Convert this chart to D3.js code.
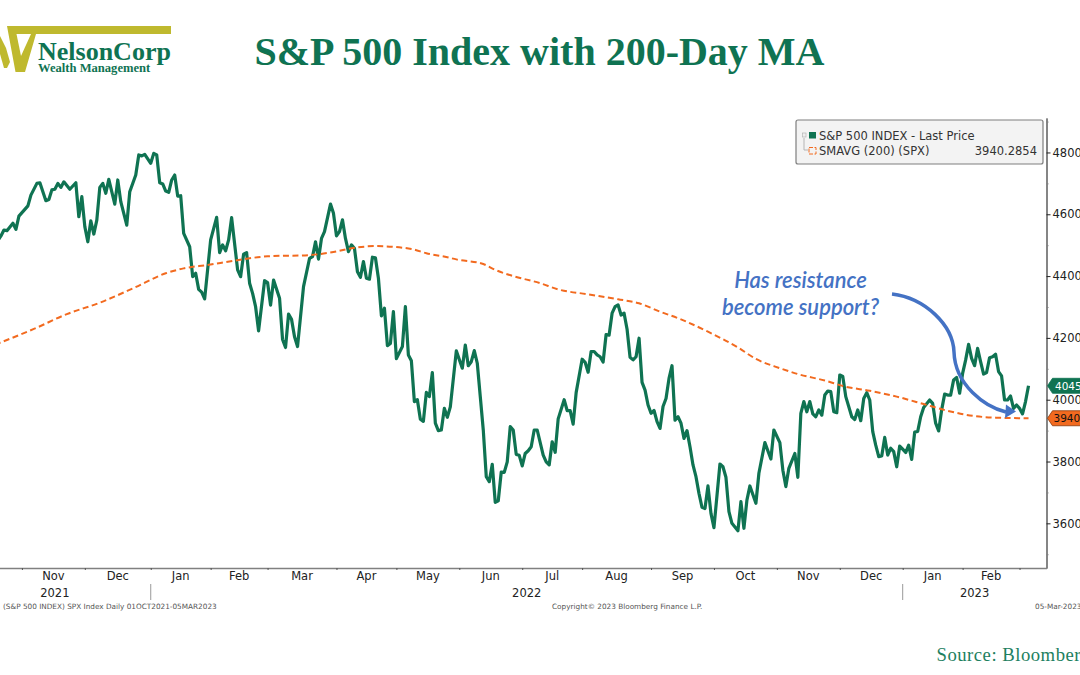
<!DOCTYPE html>
<html>
<head>
<meta charset="utf-8">
<title>S&amp;P 500 Index with 200-Day MA</title>
<script src="https://cdnjs.cloudflare.com/ajax/libs/d3/7.8.5/d3.min.js"></script>
<style>
    html, body { margin: 0; padding: 0; background: #fff; overflow: hidden; }
    svg { display: block; }
</style>
</head>
<body>
<div id="chart"></div>
<script>
'use strict'

////////////////////////////////////
//////////////// data //////////////
////////////////////////////////////

// x values are trading days counted from 01 Oct 2021
const priceDays = [
    13, 14, 15, 16, 18, 19, 20, 23, 24, 26, 27, 29, 30, 31, 32, 33, 34, 35, 37, 39, 40, 41, 42, 43, 44,
    45, 46, 47, 48, 49, 50, 52, 53, 54, 56, 57, 59, 60, 61, 62, 64, 65, 66, 67, 68, 69, 70, 71, 72, 73,
    74, 75, 77, 78, 79, 80, 81, 82, 84, 86, 87, 88, 89, 90, 91, 93, 94, 95, 96, 97, 98, 99, 100, 102, 103,
    104, 105, 107, 108, 109, 110, 111, 112, 113, 115, 117, 118, 119, 120, 121, 122, 124, 125, 126, 127, 128,
    129, 130, 131, 132, 133, 134, 135, 136, 137, 138, 139, 140, 141, 142, 143, 144, 145, 146, 148, 149, 150,
    151, 152, 153, 154, 155, 156, 157, 158, 159, 160, 161, 162, 163, 164, 166, 168, 169, 170, 171, 172, 173,
    174, 175, 176, 177, 178, 179, 180, 181, 182, 183, 184, 185, 186, 187, 188, 189, 190, 191, 192, 193, 195,
    196, 197, 198, 199, 200, 202, 203, 204, 205, 206, 208, 209, 210, 211, 212, 213, 214, 215, 216, 217, 218,
    219, 220, 221, 222, 223, 224, 225, 226, 227, 228, 229, 230, 231, 232, 233, 234, 235, 236, 237, 238, 239,
    240, 241, 242, 243, 244, 245, 246, 247, 248, 249, 250, 251, 252, 254, 255, 256, 257, 258, 260, 261, 262,
    263, 264, 266, 267, 269, 271, 272, 274, 275, 276, 277, 279, 280, 281, 282, 283, 284, 285, 286, 287, 288,
    289, 290, 291, 292, 293, 294, 295, 296, 298, 299, 300, 301, 302, 303, 304, 305, 306, 307, 308, 309, 310,
    311, 312, 313, 314, 315, 316, 317, 318, 319, 320, 321, 322, 324, 325, 326, 327, 328, 329, 330, 331, 332,
    333, 334, 335, 336, 337, 338, 339, 340, 341, 342, 343, 344, 345, 346, 347, 348, 349, 350, 351, 352, 353,
    354, 355, 356, 357
]
const priceValues = [
    4515, 4530, 4549, 4547, 4571, 4551, 4594, 4627, 4662, 4700, 4702, 4644, 4648, 4679, 4681, 4700, 4687, 4705, 4681, 4702, 4592, 4657, 4560, 4511, 4579,
    4536, 4581, 4687, 4700, 4668, 4713, 4633, 4711, 4641, 4565, 4673, 4727, 4792, 4789, 4794, 4765, 4797, 4792, 4702, 4698, 4675, 4671, 4711, 4727, 4659,
    4660, 4538, 4495, 4398, 4409, 4357, 4348, 4326, 4517, 4590, 4476, 4501, 4482, 4517, 4589, 4420, 4398, 4471, 4476, 4377, 4344, 4301, 4223, 4385, 4379,
    4306, 4387, 4328, 4195, 4169, 4277, 4260, 4204, 4172, 4366, 4457, 4463, 4511, 4455, 4522, 4544, 4633, 4603, 4530, 4544, 4582,
    4522, 4479, 4501, 4490, 4414, 4396, 4447, 4393, 4390, 4461, 4459, 4393, 4271, 4296, 4175, 4182, 4285, 4133, 4172, 4301, 4145,
    4126, 3994, 4000, 3937, 3930, 4024, 4010, 4088, 3924, 3900, 3902, 3972, 3943, 3977, 4158, 4102, 4177, 4110, 4123, 4159, 4118,
    4010, 3902, 3751, 3735, 3791, 3668, 3673, 3766, 3765, 3799, 3913, 3902, 3823, 3820, 3786, 3826, 3835, 3848, 3902, 3902, 3821,
    3799, 3789, 3864, 3830, 3938, 4000, 3965, 3965, 3921, 4023, 4131, 4121, 4089, 4156, 4156, 4145, 4139, 4122, 4211, 4209, 4280,
    4301, 4307, 4274, 4280, 4228, 4137, 4129, 4139, 4199, 4056, 4031, 3983, 3956, 3965, 3929, 3907, 3978, 4004, 4069, 4110, 3934,
    3945, 3924, 3875, 3900, 3848, 3789, 3751, 3697, 3652, 3648, 3721, 3632, 3586, 3792, 3783, 3749, 3638, 3600, 3576, 3670, 3584,
    3675, 3721, 3665, 3762, 3861, 3808, 3902, 3861, 3772, 3719, 3778, 3826, 3749, 3956, 3994, 3961, 3994, 3954, 3945, 3967, 3950,
    4015, 4028, 4026, 3961, 3958, 4080, 4075, 4010, 3945, 3936, 3967, 3932, 4004, 4023, 3999, 3897, 3853, 3816, 3818, 3878, 3821,
    3843, 3832, 3783, 3850, 3840, 3829, 3853, 3807, 3895, 3897, 3945, 3975, 3999, 3988, 3924, 3899, 3967, 4018, 4015, 4015, 4064,
    4072, 4021, 4085, 4128, 4179, 4134, 4110, 4166, 4123, 4083, 4088, 4136, 4139, 4147, 4091, 4077, 3999, 3999, 4012, 3972, 3983,
    3972, 3954, 3994, 4045
]

const maDays = [
    12, 25, 36, 47, 58, 69, 75, 83, 92, 103, 117, 125, 131, 139, 151, 156, 163, 166, 175, 179, 185, 194, 200, 210,
    220, 227, 234, 241, 250, 260, 266, 274, 280, 289, 296, 304, 313, 322, 330, 339, 346, 357
]
const maValues = [
    4178, 4229, 4277, 4314, 4360, 4409, 4425, 4436, 4450, 4464, 4468, 4478, 4490, 4497, 4488, 4474, 4461, 4454, 4439, 4420, 4400, 4377, 4357, 4341,
    4325, 4312, 4285, 4260, 4220, 4169, 4132, 4102, 4083, 4062, 4042, 4029, 4010, 3986, 3964, 3947, 3942, 3940
]

const yMajorTicks = [3600, 3800, 4000, 4200, 4400, 4600, 4800]
const yMinorTicks = [3500, 3700, 3900, 4100, 4300, 4500, 4700, 4900]

// trading day on which each month starts
const monthStarts = [21, 42, 64, 84, 103, 126, 146, 167, 188, 208, 231, 252, 273, 294, 315, 335, 354]
const monthNames = ['Nov', 'Dec', 'Jan', 'Feb', 'Mar', 'Apr', 'May', 'Jun', 'Jul', 'Aug', 'Sep', 'Oct', 'Nov', 'Dec', 'Jan', 'Feb']
const yearStarts = [0, 64, 315, 363]
const yearNames = ['2021', '2022', '2023']

const lastPrice = 4045
const lastAverage = 3940
const averageLabel = '3940.2854'

////////////////////////////////////
//////////// svg setup /////////////
////////////////////////////////////

const svgWidth = 1080
const svgHeight = 675

const green = '#0f7352'
const orange = '#f26a1f'
const blue = '#4472c4'
const olive = '#bfb92e'
const axisGrey = '#808080'
const tahoma = '"DejaVu Sans", sans-serif'
const times = '"Liberation Serif", serif'

const svg = d3.select('#chart')
    .append('svg')
    .attr('width', svgWidth)
    .attr('height', svgHeight)
    .attr('viewBox', `0 0 ${svgWidth} ${svgHeight}`)

const plot = { left: -41, right: 1046.5, top: 118, bottom: 568 }

const x = d3.scaleLinear().domain([0, 363]).range([plot.left, plot.right])
const y = d3.scaleLinear().domain([3455.5, 4911.5]).range([plot.bottom, plot.top])

////////////////////////////////////
////////////// header //////////////
////////////////////////////////////

const logo = svg.append('g')
logo.append('path')
    .attr('fill', olive)
    .attr('d', 'M7,26 H171 V34 H36 L25,72 H15.5 Z')
logo.append('path')
    .attr('fill', '#fff')
    .attr('d', 'M16.5,34 H31 L21,56 Z')
logo.append('path')
    .attr('fill', olive)
    .attr('d', 'M0,36 L6,48 L10,62 L7,68 H4 L0,54 Z')
logo.append('text')
    .attr('x', 38)
    .attr('y', 60)
    .attr('font-family', times)
    .attr('font-weight', 700)
    .attr('font-size', 26)
    .attr('fill', green)
    .text('NelsonCorp')
logo.append('text')
    .attr('x', 38)
    .attr('y', 72)
    .attr('font-family', times)
    .attr('font-weight', 700)
    .attr('font-size', 12.6)
    .attr('fill', green)
    .text('Wealth Management')

svg.append('text')
    .attr('x', 539.5)
    .attr('y', 65)
    .attr('text-anchor', 'middle')
    .attr('font-family', times)
    .attr('font-weight', 700)
    .attr('font-size', 40)
    .attr('fill', green)
    .text('S&P 500 Index with 200-Day MA')

svg.append('text')
    .attr('x', 936.5)
    .attr('y', 661)
    .attr('font-family', times)
    .attr('font-size', 18.7)
    .attr('letter-spacing', 0.5)
    .attr('fill', '#1d8060')
    .text('Source: Bloomberg')

////////////////////////////////////
/////////////// axes ///////////////
////////////////////////////////////

const yAxisMinor = svg.append('g')
    .attr('transform', `translate(${plot.right},0)`)
    .call(d3.axisRight(y).tickValues(yMinorTicks).tickSize(2).tickSizeOuter(0).tickFormat(''))

const yAxis = svg.append('g')
    .attr('transform', `translate(${plot.right},0)`)
    .call(d3.axisRight(y).tickValues(yMajorTicks).tickSize(4).tickSizeOuter(0).tickPadding(2).tickFormat(d3.format('d')))

const xAxis = svg.append('g')
    .attr('transform', `translate(0,${plot.bottom})`)
    .call(d3.axisBottom(x).tickValues(monthStarts).tickSize(2).tickSizeOuter(0).tickFormat(''))

yAxis.selectAll('text')
    .attr('font-family', tahoma)
    .attr('font-size', 11.5)
    .attr('fill', '#222')
yAxis.selectAll('line').attr('stroke', '#222')
yAxisMinor.selectAll('line').attr('stroke', axisGrey)
xAxis.selectAll('line').attr('stroke', '#555')

svg.selectAll('.domain')
    .attr('stroke', axisGrey)
    .attr('stroke-width', 1.6)

// month names sit in the middle of each month
svg.append('g')
    .selectAll('text')
    .data(monthNames)
    .join('text')
    .attr('x', (d, i) => x((monthStarts[i] + monthStarts[i + 1]) / 2))
    .attr('y', 580)
    .attr('text-anchor', 'middle')
    .attr('font-family', tahoma)
    .attr('font-size', 11.5)
    .attr('fill', '#222')
    .text(d => d)

svg.append('g')
    .selectAll('text')
    .data(yearNames)
    .join('text')
    .attr('x', (d, i) => x((yearStarts[i] + yearStarts[i + 1]) / 2))
    .attr('y', 597)
    .attr('text-anchor', 'middle')
    .attr('font-family', tahoma)
    .attr('font-size', 11.5)
    .attr('fill', '#222')
    .text(d => d)

svg.append('g')
    .selectAll('line')
    .data(yearStarts.slice(1, 3))
    .join('line')
    .attr('x1', d => x(d))
    .attr('x2', d => x(d))
    .attr('y1', 584)
    .attr('y2', 600)
    .attr('stroke', '#999')

const smallText = svg.append('g')
    .attr('font-family', tahoma)
    .attr('font-size', 7.3)
    .attr('fill', '#555')
smallText.append('text').attr('x', 3).attr('y', 609).text('(S&P 500 INDEX) SPX Index  Daily 01OCT2021-05MAR2023')
smallText.append('text').attr('x', 552).attr('y', 609).text('Copyright© 2023 Bloomberg Finance L.P.')
smallText.append('text').attr('x', 1035).attr('y', 609).text('05-Mar-2023')

////////////////////////////////////
/////////////// lines //////////////
////////////////////////////////////

const priceLine = d3.line()
    .x(d => x(d))
    .y((d, i) => y(priceValues[i]))

const maLine = d3.line()
    .x(d => x(d))
    .y((d, i) => y(maValues[i]))
    .curve(d3.curveMonotoneX)

svg.append('path')
    .attr('d', priceLine(priceDays))
    .attr('fill', 'none')
    .attr('stroke', green)
    .attr('stroke-width', 3.2)
    .attr('stroke-linejoin', 'round')

svg.append('path')
    .attr('d', maLine(maDays))
    .attr('fill', 'none')
    .attr('stroke', orange)
    .attr('stroke-width', 2)
    .attr('stroke-dasharray', '6 3.5')

////////////////////////////////////
//////////// value tags ////////////
////////////////////////////////////

const tags = [
    { value: lastPrice, fill: green, text: '#fff', stroke: green, inset: 7.5 },
    { value: lastAverage, fill: orange, text: '#111', stroke: '#8a3a0a', inset: 6 }
]

const tag = svg.append('g')
    .selectAll('g')
    .data(tags)
    .join('g')
    .attr('transform', d => `translate(${plot.right + 1},${y(d.value)})`)

tag.append('path')
    .attr('d', 'M0,0 L5,-7.5 H40 V7.5 H5 Z')
    .attr('fill', d => d.fill)
    .attr('stroke', d => d.stroke)
    .attr('stroke-width', 0.8)

tag.append('text')
    .attr('x', d => d.inset)
    .attr('y', 4)
    .attr('font-family', tahoma)
    .attr('font-size', 10.5)
    .attr('fill', d => d.text)
    .text(d => d.value)

////////////////////////////////////
////////////// legend //////////////
////////////////////////////////////

const legend = svg.append('g')

legend.append('rect')
    .attr('x', 796)
    .attr('y', 120)
    .attr('width', 247)
    .attr('height', 44)
    .attr('rx', 2)
    .attr('fill', '#f3f3f3')
    .attr('stroke', '#7f7f7f')
    .attr('stroke-width', 1.2)

legend.append('path')
    .attr('d', 'M804,138 V150 H808')
    .attr('fill', 'none')
    .attr('stroke', '#b5b5b5')
legend.append('rect')
    .attr('x', 802.5)
    .attr('y', 133)
    .attr('width', 3.5)
    .attr('height', 4)
    .attr('fill', '#eee')
    .attr('stroke', '#b5b5b5')
    .attr('stroke-width', 0.7)

legend.append('rect')
    .attr('x', 809)
    .attr('y', 132)
    .attr('width', 7)
    .attr('height', 6.5)
    .attr('fill', green)
legend.append('path')
    .attr('d', 'M809,147.5 H816 V154 H809 V147.5')
    .attr('fill', 'none')
    .attr('stroke', orange)
    .attr('stroke-dasharray', '4 1.5')

const legendText = legend.append('g')
    .attr('font-family', tahoma)
    .attr('font-size', 11.5)
    .attr('fill', '#333')
legendText.append('text').attr('x', 819).attr('y', 140).text('S&P 500 INDEX - Last Price')
legendText.append('text').attr('x', 819).attr('y', 155).text('SMAVG (200) (SPX)')
legendText.append('text').attr('x', 1037).attr('y', 155).attr('text-anchor', 'end').text(averageLabel)

////////////////////////////////////
//////////// annotation ////////////
////////////////////////////////////

const note = svg.append('g')
    .attr('font-family', 'Lato, sans-serif')
    .attr('font-style', 'italic')
    .attr('font-weight', 600)
    .attr('font-size', 22)
    .attr('fill', blue)
    .attr('text-anchor', 'middle')
note.append('text').attr('x', 800.5).attr('y', 288).text('Has resistance')
note.append('text').attr('x', 800.5).attr('y', 315).text('become support?')

svg.append('path')
    .attr('d', 'M892,294 C925,298 953,325 954,352 C955,385 985,407 1006,412')
    .attr('fill', 'none')
    .attr('stroke', blue)
    .attr('stroke-width', 3.5)

svg.append('path')
    .attr('d', 'M1016,411.5 L1005,418 L1006,404.5 Z')
    .attr('fill', blue)
</script>
</body>
</html>
